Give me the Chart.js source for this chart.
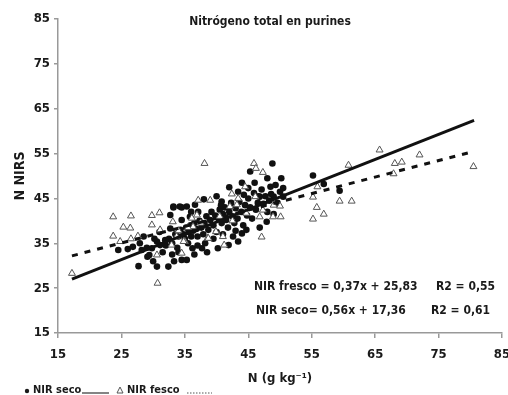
<!DOCTYPE html>
<html>
<head>
<meta charset="utf-8">
<script src="https://cdn.jsdelivr.net/npm/chart.js@4.4.1/dist/chart.umd.min.js"></script>
<style>
  html, body { margin: 0; padding: 0; background: #fff; }
</style>
</head>
<body>
<canvas id="chart" width="508" height="395"></canvas>
<script>
// NIR seco (filled dots)
const secoPoints = [
  [24.5,33.5],[26.0,33.7],[26.8,34.2],[27.9,35.0],[28.2,33.5],[27.7,29.9],[29.1,32.0],[29.4,32.4],
  [29.8,33.9],[30.6,29.8],[31.1,34.6],[31.9,35.7],[30.6,35.4],[32.4,29.8],[33.3,31.0],[34.5,31.3],
  [35.3,31.3],[32.7,38.3],[32.7,41.3],[33.2,43.2],[34.2,43.2],[35.3,43.2],[36.6,43.6],[35.8,40.9],
  [34.5,40.2],[36.2,33.9],[37.7,33.9],[38.2,35.0],[40.2,33.9],[41.9,34.6],[43.4,35.4],[42.6,36.5],
  [44.7,38.0],[47.9,39.8],[33.2,43.0],[34.5,43.0],[37.1,42.0],[40.8,44.3],[43.4,46.5],[46.6,45.5],
  [45.0,47.3],[45.3,51.0],[48.8,52.8],[50.2,49.5],[48.5,47.6],[50.5,47.3],[46.8,45.4],[49.0,45.4],
  [50.5,45.4],[55.2,50.1],[56.9,48.2],[59.4,46.7],
  [31.5,33.0],[32.0,34.5],[32.5,36.0],[33.0,35.0],[33.5,37.0],[33.8,34.0],[34.0,36.5],[34.3,38.0],
  [34.8,37.0],[35.0,36.0],[35.2,38.5],[35.6,37.5],[35.9,39.0],[36.0,36.5],[36.3,37.8],[36.5,39.5],
  [36.8,38.2],[37.0,36.5],[37.3,40.0],[37.6,38.5],[37.9,37.0],[38.1,39.5],[38.4,41.0],[38.7,38.0],
  [39.0,40.2],[39.2,42.0],[39.5,39.0],[39.8,41.2],[40.0,37.5],[40.3,40.5],[40.5,42.5],[40.8,39.5],
  [41.0,41.5],[41.3,43.0],[41.5,40.2],[41.8,38.5],[42.0,42.0],[42.3,44.0],[42.5,41.0],[42.8,39.5],
  [43.0,42.8],[43.3,40.5],[43.6,44.2],[43.9,42.0],[44.2,39.0],[44.5,43.5],[44.8,41.2],[45.0,45.0],
  [45.3,43.0],[45.6,40.5],[45.9,46.2],[46.2,42.5],[46.5,44.0],[46.8,38.5],[47.1,47.0],[47.4,43.8],
  [47.7,45.5],[48.0,42.0],[48.3,44.5],[48.6,46.0],[49.0,41.5],[49.3,48.0],[49.6,44.0],[50.0,46.5],
  [38.0,44.8],[36.0,42.0],[39.5,36.0],[41.0,37.0],[44.0,37.2],[42.0,47.5],[44.0,48.5],[40.0,45.5],
  [37.0,34.5],[35.5,35.0],[34.0,33.0],[38.5,33.0],[30.2,36.0],[31.0,37.5],[29.0,34.0],[28.5,36.5],
  [30.0,31.0],[33.0,32.5],[36.5,32.5],[43.0,37.8],[46.0,48.5],[48.0,49.5],[44.3,45.8],[40.7,43.5]
];

// NIR fresco (open triangles)
const frescoPoints = [
  [17.2,28.3],[23.7,40.9],[26.5,41.1],[29.8,41.2],[31.0,41.8],[25.3,38.6],[26.4,38.4],[23.7,36.6],
  [24.8,35.4],[26.5,36.0],[27.6,36.6],[29.8,39.1],[31.1,38.0],[33.1,39.8],[33.7,36.5],[35.0,35.4],
  [34.5,32.8],[30.6,32.4],[30.7,26.1],[32.9,34.6],[36.3,38.7],[36.9,41.3],[37.1,44.6],[39.0,44.6],
  [38.6,36.2],[39.9,37.6],[41.0,36.5],[41.2,34.6],[42.1,43.2],[43.2,43.6],[44.7,41.7],[38.1,52.8],
  [45.9,52.8],[47.3,50.8],[46.2,51.7],[42.4,46.0],[43.4,45.0],[46.1,45.4],[44.5,47.6],[48.9,40.9],
  [50.1,40.9],[47.3,42.4],[46.8,40.9],[50.0,43.3],[49.0,43.5],[47.1,36.4],[55.2,45.3],[55.8,43.0],
  [55.2,40.4],[56.9,41.5],[55.9,47.6],[59.4,44.4],[61.3,44.4],[60.8,52.4],[65.7,55.8],[72.0,54.7],
  [68.1,52.8],[69.2,53.1],[67.9,50.5],[80.5,52.1],
  [36.1,40.6],[34.8,35.4],[38.7,36.1],[35.5,38.5],[37.5,39.5],[40.5,41.0],[42.5,40.0],[34.0,37.8]
];

// regression line ends
const secoFit = [[17.2,27.0],[80.6,62.4]];
const frescoFit = [[17.2,32.2],[80.6,55.5]];

const axisTicks = [15, 25, 35, 45, 55, 65, 75, 85];

const FONT = '"DejaVu Sans Condensed", "DejaVu Sans", sans-serif';
const toXY = arr => arr.map(p => ({x: p[0], y: p[1]}));

const textPlugin = {
    id: 'texts',
    afterDraw(chart) {
        const ctx = chart.ctx;
        ctx.save();
        ctx.fillStyle = '#1a1a1a';
        ctx.textBaseline = 'middle';

        ctx.font = 'bold 12px ' + FONT;
        ctx.textAlign = 'center';
        ctx.fillText('Nitrógeno total en purines', 270, 22);

        ctx.textAlign = 'left';
        ctx.font = 'bold 12px ' + FONT;
        ctx.fillText('NIR fresco = 0,37x + 25,83', 254, 287);
        ctx.fillText('R2 = 0,55', 436, 287);
        ctx.fillText('NIR seco= 0,56x + 17,36', 256, 311);
        ctx.fillText('R2 = 0,61', 431, 311);

        // legend
        ctx.font = 'bold 11px ' + FONT;
        ctx.beginPath();
        ctx.arc(27, 391, 2.2, 0, Math.PI * 2);
        ctx.fill();
        ctx.fillText('NIR seco', 33, 390);
        ctx.strokeStyle = '#333';
        ctx.lineWidth = 1.2;
        ctx.beginPath();
        ctx.moveTo(82, 393); ctx.lineTo(109, 393);
        ctx.stroke();

        ctx.strokeStyle = '#555';
        ctx.lineWidth = 1;
        ctx.beginPath();
        ctx.moveTo(120, 387); ctx.lineTo(123, 393); ctx.lineTo(117, 393); ctx.closePath();
        ctx.stroke();
        ctx.fillText('NIR fesco', 127, 390);
        ctx.setLineDash([1.5, 1.5]);
        ctx.beginPath();
        ctx.moveTo(187, 393); ctx.lineTo(212, 393);
        ctx.stroke();
        ctx.restore();
    }
};

const tickFont = {family: FONT, size: 13, weight: 'bold'};

new Chart(document.getElementById('chart'), {
    type: 'scatter',
    data: {
        datasets: [
            {
                type: 'line', label: 'seco fit', data: toXY(secoFit),
                borderColor: '#111', borderWidth: 3, pointRadius: 0, fill: false
            },
            {
                type: 'line', label: 'fresco fit', data: toXY(frescoFit),
                borderColor: '#111', borderWidth: 3, borderDash: [6, 7], pointRadius: 0, fill: false
            },
            {
                label: 'NIR fesco', data: toXY(frescoPoints),
                pointStyle: 'triangle', pointRadius: 4,
                backgroundColor: '#fff', borderColor: '#555', borderWidth: 1
            },
            {
                label: 'NIR seco', data: toXY(secoPoints),
                pointStyle: 'circle', pointRadius: 3.3,
                backgroundColor: '#111', borderColor: '#111', borderWidth: 0
            }
        ]
    },
    options: {
        responsive: false,
        animation: false,
        layout: { padding: { top: 19, right: 0, bottom: 0, left: 0 } },
        plugins: {
            legend: { display: false },
            tooltip: { enabled: false }
        },
        scales: {
            x: {
                type: 'linear', min: 15, max: 85,
                afterBuildTicks: s => { s.ticks = axisTicks.map(v => ({value: v})); },
                ticks: { padding: 9, color: '#1a1a1a', font: tickFont },
                grid: { drawOnChartArea: false, tickLength: 5, color: '#999', lineWidth: 1.5 },
                border: { color: '#999', width: 1.5 },
                title: {
                    display: true, text: 'N (g kg⁻¹)', color: '#1a1a1a',
                    font: {family: FONT, size: 13, weight: 'bold'},
                    padding: { top: 0, bottom: 9 }
                },
                afterFit: s => { s.height = 62; s.paddingRight = 6; }
            },
            y: {
                type: 'linear', min: 15, max: 85,
                afterBuildTicks: s => { s.ticks = axisTicks.map(v => ({value: v})); },
                ticks: { padding: 4, color: '#1a1a1a', font: tickFont },
                grid: { drawOnChartArea: false, tickLength: 4, color: '#999', lineWidth: 1.5 },
                border: { color: '#999', width: 1.5 },
                title: {
                    display: true, text: 'N NIRS', color: '#1a1a1a',
                    font: {family: FONT, size: 14, weight: 'bold'},
                    padding: { top: 12, bottom: 0 }
                },
                afterFit: s => { s.width = 58; }
            }
        }
    },
    plugins: [textPlugin]
});
</script>
</body>
</html>
